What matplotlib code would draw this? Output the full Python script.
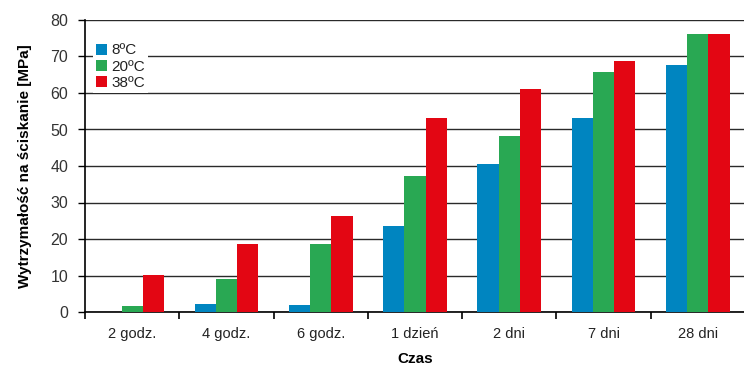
import matplotlib
matplotlib.use("Agg")
import matplotlib.pyplot as plt
import numpy as np

plt.rcParams['font.family'] = ['Liberation Sans', 'DejaVu Sans']

categories = ["2 godz.", "4 godz.", "6 godz.", "1 dzień", "2 dni", "7 dni", "28 dni"]
series_names = ["8ºC", "20ºC", "38ºC"]
t8 = [0.0, 2.1, 2.0, 23.6, 40.6, 53.2, 67.8]
t20 = [1.7, 9.1, 18.7, 37.3, 48.3, 65.8, 76.2]
t38 = [10.1, 18.7, 26.2, 53.2, 61.2, 68.8, 76.2]
yticks = [0, 10, 20, 30, 40, 50, 60, 70, 80]

colors = ["#0085C0", "#29A853", "#E30613"]

fig = plt.figure(figsize=(7.44, 3.65), dpi=100)
ax = fig.add_axes([85 / 744, 1 - 312 / 365, 660 / 744, 292 / 365])

x = np.arange(len(categories))
w = 0.225
for k, (vals, name) in enumerate(zip([t8, t20, t38], series_names)):
    ax.bar(x + (k - 1) * w, vals, width=w, color=colors[k], label=name, zorder=3)

ax.set_xlim(-0.5, len(categories) - 0.5)
ax.set_ylim(0, 80)
ax.set_yticks(yticks)
ax.yaxis.grid(True, color="#2a2a2a", linewidth=1.0, zorder=0)
ax.set_axisbelow(True)

# category boundaries as ticks, labels centred between them
ax.set_xticks(np.arange(-0.5, len(categories)), minor=False)
ax.set_xticklabels([])
ax.set_xticks(x, minor=True)
ax.set_xticklabels(categories, minor=True)
ax.tick_params(axis="x", which="major", length=5, width=1.2, direction="out", color="black")
ax.tick_params(axis="x", which="minor", length=0, pad=11, labelsize=10.5, labelcolor="#222222")
ax.tick_params(axis="y", length=5, width=1.0, direction="out", labelsize=11.5,
               labelcolor="#333333", pad=7)

for side in ["top", "right"]:
    ax.spines[side].set_visible(False)
ax.spines["left"].set_linewidth(1.2)
ax.spines["bottom"].set_linewidth(1.2)

ax.set_ylabel("Wytrzymałość na ściskanie [MPa]", fontsize=11, fontweight="bold", labelpad=13)
ax.set_xlabel("Czas", fontsize=11, fontweight="bold", labelpad=8)

leg = ax.legend(loc="upper left", bbox_to_anchor=(0.012, 0.93), frameon=True,
                fancybox=False, edgecolor="none", facecolor="white", framealpha=1,
                handlelength=0.75, handleheight=0.75, handletextpad=0.25,
                labelspacing=0.15, borderpad=0.2, fontsize=11, borderaxespad=0)
for t in leg.get_texts():
    t.set_color("#222222")

fig.savefig("out.png", dpi=100)
